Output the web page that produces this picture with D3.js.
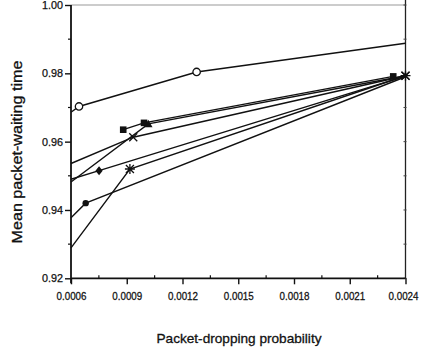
<!DOCTYPE html>
<html><head><meta charset="utf-8">
<script src="https://cdn.jsdelivr.net/npm/d3@7"></script>
<style>body{margin:0;background:#fff}svg{display:block}text{font-family:"Liberation Sans",Arial,sans-serif;fill:#111}</style>
</head><body><svg id="c" width="423" height="352"></svg>
<script>
// ---- data ----
const openCircleX = [0.0006, 0.000643, 0.001276, 0.0024];
const openCircleY = [0.9686, 0.9703, 0.9804, 0.9888];
const squareX = [0.000881, 0.000993, 0.002334];
const squareY = [0.9635, 0.9655, 0.9791];
const triangleX = [0.0006, 0.001016, 0.0024];
const triangleY = [0.9482, 0.9652, 0.9793];
const crossX = [0.0006, 0.000935, 0.0024];
const crossY = [0.9536, 0.9613, 0.9793];
const diamondX = [0.0006, 0.000751, 0.0024];
const diamondY = [0.9490, 0.9515, 0.9792];
const asteriskX = [0.0006, 0.000917, 0.0024];
const asteriskY = [0.9289, 0.9520, 0.9793];
const filledCircleX = [0.0006, 0.000679, 0.0024];
const filledCircleY = [0.9377, 0.9420, 0.9790];
const xTicks = [0.0006, 0.0009, 0.0012, 0.0015, 0.0018, 0.0021, 0.0024];
const xTickLabels = ["0.0006", "0.0009", "0.0012", "0.0015", "0.0018", "0.0021", "0.0024"];
const yTicks = [0.92, 0.94, 0.96, 0.98, 1.00];
const yTickLabels = ["0.92", "0.94", "0.96", "0.98", "1.00"];
const xMinor = [0.00075, 0.00105, 0.00135, 0.00165, 0.00195, 0.00225];
const yMinor = [0.93, 0.95, 0.97, 0.99];

const series = [
  {x: openCircleX, y: openCircleY, marker: "openCircle", mk: [1, 2]},
  {x: squareX, y: squareY, marker: "square", mk: [0, 1, 2]},
  {x: triangleX, y: triangleY, marker: "triangle", mk: [1]},
  {x: crossX, y: crossY, marker: "cross", mk: [1, 2]},
  {x: diamondX, y: diamondY, marker: "diamond", mk: [1]},
  {x: asteriskX, y: asteriskY, marker: "asterisk", mk: [1, 2]},
  {x: filledCircleX, y: filledCircleY, marker: "filledCircle", mk: [1]}
];

const svg = d3.select("#c");
const L = 71, R = 405.5, T = 5, B = 278.3;
const x = d3.scaleLinear().domain([0.0006, 0.0024]).range([L, R]);
const y = d3.scaleLinear().domain([0.92, 1.00]).range([B, T]);

// frame (top faint, right)
svg.append("line").attr("x1", L).attr("x2", R).attr("y1", T).attr("y2", T)
  .attr("stroke", "#999").attr("stroke-width", 1);
svg.append("line").attr("x1", R).attr("x2", R).attr("y1", T - 5).attr("y2", B)
  .attr("stroke", "#222").attr("stroke-width", 1.3);
svg.append("g").selectAll("line").data(yMinor.concat(yTicks)).join("line")
  .attr("x1", R - 2).attr("x2", R + 1).attr("y1", d => y(d)).attr("y2", d => y(d))
  .attr("stroke", "#444").attr("stroke-width", 1);

// axes
const xAxis = svg.append("g").attr("transform", `translate(0,${B})`)
  .call(d3.axisBottom(x).tickValues(xTicks).tickFormat((d, i) => xTickLabels[i]).tickSize(6).tickPadding(6));
const yAxis = svg.append("g").attr("transform", `translate(${L},0)`)
  .call(d3.axisLeft(y).tickValues(yTicks).tickFormat((d, i) => yTickLabels[i]).tickSize(6).tickPadding(2));
[xAxis, yAxis].forEach(g => {
  g.select(".domain").attr("stroke", "#111").attr("stroke-width", 1.8);
  g.selectAll(".tick line").attr("stroke", "#111").attr("stroke-width", 1.4);
  g.selectAll("text").attr("fill", "#111").attr("stroke", "#111").attr("stroke-width", 0.25)
    .style("font-family", '"Liberation Sans", Arial, sans-serif');
});
xAxis.select(".domain").attr("d", `M${L},0H${R}`);
yAxis.select(".domain").attr("d", `M0,${B + 5}V${T}`);
xAxis.selectAll("text").attr("font-size", 10.5).attr("textLength", 30).attr("lengthAdjust", "spacingAndGlyphs")
  .attr("transform", "scale(1,1.1)");
yAxis.selectAll("text").attr("font-size", 10.5).attr("textLength", 21).attr("lengthAdjust", "spacingAndGlyphs");
xAxis.selectAll(".tick text").filter((d, i) => i === xTicks.length - 1).attr("dx", -2.5);

// minor ticks
svg.append("g").selectAll("line").data(xMinor).join("line")
  .attr("x1", d => x(d)).attr("x2", d => x(d)).attr("y1", B).attr("y2", B - 3)
  .attr("stroke", "#111").attr("stroke-width", 1.2);
svg.append("g").selectAll("line").data(yMinor).join("line")
  .attr("x1", L).attr("x2", L - 3).attr("y1", d => y(d)).attr("y2", d => y(d))
  .attr("stroke", "#111").attr("stroke-width", 1.2);

// lines
const line = d3.line().x(d => x(d[0])).y(d => y(d[1]));
const g = svg.append("g");
series.forEach(s => {
  const pts = s.x.map((v, i) => [v, s.y[i]]);
  g.append("path").attr("d", line(pts)).attr("fill", "none")
    .attr("stroke", "#111").attr("stroke-width", 1.4);
});

// markers
const mg = svg.append("g");
series.forEach(s => {
  s.mk.forEach(i => {
    const cx = x(s.x[i]), cy = y(s.y[i]);
    const m = mg.append("g").attr("transform", `translate(${cx},${cy})`);
    switch (s.marker) {
      case "openCircle":
        m.append("circle").attr("r", 3.7).attr("fill", "#fff").attr("stroke", "#111").attr("stroke-width", 1.3); break;
      case "filledCircle":
        m.append("circle").attr("r", 3.2).attr("fill", "#111"); break;
      case "square":
        m.append("rect").attr("x", -3.3).attr("y", -3.3).attr("width", 6.6).attr("height", 6.6).attr("fill", "#111"); break;
      case "triangle":
        m.append("path").attr("d", "M0,-4.2L4.2,3.3L-4.2,3.3Z").attr("fill", "#111"); break;
      case "diamond":
        m.append("path").attr("d", "M0,-4.5L3.6,0L0,4.5L-3.6,0Z").attr("fill", "#111"); break;
      case "cross":
        m.append("path").attr("d", "M-4,-4L4,4M-4,4L4,-4").attr("stroke", "#111").attr("stroke-width", 1.3); break;
      case "asterisk":
        m.append("path").attr("d", "M-4,-4L4,4M-4,4L4,-4M0,-5V5M-5,0H5").attr("stroke", "#111").attr("stroke-width", 1.3); break;
    }
  });
});

// axis titles
svg.append("text").attr("x", 239).attr("y", 343).attr("text-anchor", "middle")
  .attr("font-size", 13.5).attr("textLength", 165).attr("lengthAdjust", "spacingAndGlyphs")
  .attr("stroke", "#111").attr("stroke-width", 0.3)
  .text("Packet-dropping probability");
svg.append("text").attr("transform", "translate(22,152) rotate(-90)").attr("text-anchor", "middle")
  .attr("font-size", 14.5).attr("textLength", 183).attr("lengthAdjust", "spacingAndGlyphs")
  .attr("stroke", "#111").attr("stroke-width", 0.3)
  .text("Mean packet-waiting time");
</script></body></html>
